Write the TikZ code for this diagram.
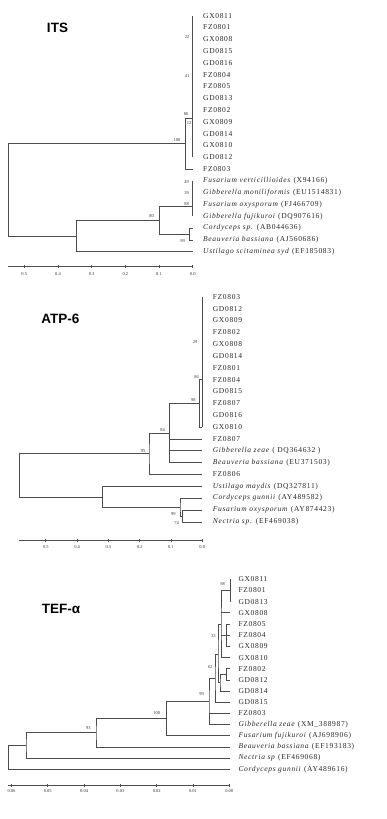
\documentclass[tikz,border=0pt]{standalone}
\usepackage{fontspec}
\setmainfont{Liberation Serif}
\newfontfamily\titlefont{Liberation Sans}
\newfontfamily\leaffont[LetterSpace=9]{Liberation Serif}
\usetikzlibrary{calc,positioning}

\tikzset{
  branch/.style={draw=black!70, line width=0.7pt},
  thickbranch/.style={draw=black!70, line width=1.4pt},
  leaf/.style={anchor=west, inner sep=0pt, font=\leaffont\fontsize{7.5}{8}\selectfont, text=black!85},
  boot/.style={inner sep=0pt, font=\fontsize{4.5}{4.5}\selectfont, text=black!80},
  ticklabel/.style={inner sep=0pt, anchor=north, font=\fontsize{4.5}{4.5}\selectfont, text=black!80},
  paneltitle/.style={font=\titlefont\bfseries\fontsize{13.5}{14}\selectfont}
}

\begin{document}
\begin{tikzpicture}[x=1pt,y=-1pt]
    \useasboundingbox (0,0) rectangle (387,819);

    % ITS
    \node[paneltitle] (itsT) at (57.5,28) {ITS};
    \foreach \lab [count=\i] in {GX0811,FZ0801,GX0808,GD0815,GD0816,FZ0804,FZ0805,
        GD0813,FZ0802,GX0809,GD0814,GX0810,GD0812,FZ0803,
        {\textit{Fusarium verticillioides} (X94166)},
        {\textit{Gibberella moniliformis} (EU1514831)},
        {\textit{Fusarium oxysporum} (FJ466709)},
        {\textit{Gibberella fujikuroi} (DQ907616)},
        {\textit{Cordyceps sp.} (AB044636)},
        {\textit{Beauveria bassiana} (AJ560686)},
        {\textit{Ustilago scitaminea syd} (EF185083)}} {
        \node[leaf] (its\i) at (203,{15.7+11.8*(\i-1)}) {\lab};
        \coordinate (its\i t) at (192.7,{15.7+11.8*(\i-1)});
    }
    \coordinate (itsN86) at (192.7,118.3);
    \coordinate (itsN100) at (185.7,143.7);
    \coordinate (itsR) at (8.3,190);
    \coordinate (itsB) at (76.3,236);
    \coordinate (itsN80) at (159.3,220.7);
    \coordinate (itsNF) at (192.7,206.7);
    \coordinate (itsNCB) at (189.3,234);

    \draw[branch] (its1t) -- (its13t);
    \draw[thickbranch] (its6t) -- (its13t);
    \draw[branch] (itsN86) -| (itsN100) |- (its14t);
    \draw[branch] (itsN100) -| (itsR) |- (itsB);
    \draw[branch] (itsN80) -| (itsB) |- (its21t);
    \draw[branch] (itsNF) -| (itsN80) |- (itsNCB);
    \draw[branch] (its15t) -- (its18t);
    \draw[thickbranch] (its16t) -- (its17t);
    \draw[branch] (its19t) -| (itsNCB) |- (its20t);

    \node[boot] (itsb22) at (187,37) {22};
    \node[boot] (itsb41) at (187,76) {41};
    \node[boot] (itsb86) at (186,114) {86};
    \node[boot] (itsb12) at (189,123) {12};
    \node[boot] (itsb100) at (177,140) {100};
    \node[boot] (itsb49) at (186.5,182.5) {49};
    \node[boot] (itsb39) at (186.5,193) {39};
    \node[boot] (itsb88) at (186.5,204) {88};
    \node[boot] (itsb80) at (151.7,216) {80};
    \node[boot] (itsb99) at (182.7,240.7) {99};

    \draw[branch] (8.3,266.7) -- (192.7,266.7);
    \foreach \k in {0,...,5} {
        \draw[branch] ({192.7-33.68*\k},265.2) -- ++(0,3);
        \node[ticklabel] (itsax\k) at ({192.7-33.68*\k},272) {0.\k};
    }

    % ATP-6
    \node[paneltitle] (atpT) at (60.3,319) {ATP-6};
    \foreach \lab [count=\i] in {FZ0803,GD0812,GX0809,FZ0802,GX0808,GD0814,FZ0801,
        FZ0804,GD0815,FZ0807,GD0816,GX0810,FZ0807,
        {\textit{Gibberella zeae} ( DQ364632 )},
        {\textit{Beauveria bassiana} (EU371503)},
        FZ0806,
        {\textit{Ustilago maydis} (DQ327811)},
        {\textit{Cordyceps gunnii} (AY489582)},
        {\textit{Fusarium oxysporum} (AY874423)},
        {\textit{Nectria sp.} (EF469038)}} {
        \node[leaf] (atp\i) at (212.7,{296.7+11.85*(\i-1)}) {\lab};
        \coordinate (atp\i t) at (202.3,{296.7+11.85*(\i-1)});
    }
    \coordinate (atpN86) at (202.3,379);
    \coordinate (atpN98) at (199.3,403.3);
    \coordinate (atpN84) at (169.3,433);
    \coordinate (atpN95) at (149,453.7);
    \coordinate (atpR) at (19.3,475.7);
    \coordinate (atpNL) at (102.7,497.4);
    \coordinate (atpNC) at (180,507.1);
    \coordinate (atpNFN) at (182.7,515.9);

    \draw[branch] (atp1t) -- (atp12t);
    \draw[thickbranch] (atp8t) -- (atp11t);
    \draw[branch] (atpN86) -| (atpN98) |- (atp12t);
    \draw[branch] (atpN98) -| (atpN84) |- (atp15t);
    \draw[branch] (atpN84 |- atp13t) -- (atp13t);
    \draw[branch] (atpN84 |- atp14t) -- (atp14t);
    \draw[branch] (atpN84) -| (atpN95) |- (atp16t);
    \draw[branch] (atpN95) -| (atpR) |- (atpNL);
    \draw[branch] (atp17t) -| (atpNL) |- (atpNC);
    \draw[branch] (atp18t) -| (atpNC) |- (atpNFN);
    \draw[branch] (atp19t) -| (atpNFN) |- (atp20t);

    \node[boot] (atpb29) at (195,341.7) {29};
    \node[boot] (atpb86) at (196.7,377) {86};
    \node[boot] (atpb98) at (193.3,400) {98};
    \node[boot] (atpb84) at (162.7,430) {84};
    \node[boot] (atpb95) at (143,450.7) {95};
    \node[boot] (atpb99) at (173.3,514.3) {99};
    \node[boot] (atpb74) at (176.7,522.7) {74};

    \draw[branch] (19.3,540) -- (202.3,540);
    \foreach \k in {0,...,5} {
        \draw[branch] ({202.3-31.3*\k},538.5) -- ++(0,3);
        \node[ticklabel] (atpax\k) at ({202.3-31.3*\k},545) {0.\k};
    }

    % TEF-alpha
    \node[paneltitle] (tefT) at (61,609) {TEF-α};
    \foreach \lab [count=\i] in {GX0811,FZ0801,GD0813,GX0808,FZ0805,FZ0804,GX0809,
        GX0810,FZ0802,GD0812,GD0814,GD0815,FZ0803,
        {\textit{Gibberella zeae} (XM\_388987)},
        {\textit{Fusarium fujikuroi} (AJ698906)},
        {\textit{Beauveria bassiana} (EF193183)},
        {\textit{Nectria sp} (EF469068)},
        {\textit{Cordyceps gunnii} (AY489616)}} {
        \node[leaf] (tef\i) at (238.3,{579.3+11.18*(\i-1)}) {\lab};
        \coordinate (tef\i t) at (230,{579.3+11.18*(\i-1)});
    }
    \coordinate (tefA) at (221,624);
    \coordinate (tefFZ) at (226.7,635.2);
    \coordinate (tefD) at (226.7,674.3);
    \coordinate (tefC) at (220,682.7);
    \coordinate (tefB) at (218,654.5);
    \coordinate (tefN62) at (215,678.4);
    \coordinate (tefN99) at (209,701.5);
    \coordinate (tefN100) at (166.7,718.6);
    \coordinate (tefN93) at (96,732.8);
    \coordinate (tefX) at (26,745.5);
    \coordinate (tefR) at (8.3,757.4);

    \draw[branch] (tef1t) -- (tef3t);
    \draw[branch] (tef2t) -| (tefA) |- (tef8t);
    \draw[branch] (tefA |- tef4t) -- (tef4t);
    \draw[branch] (tefA |- tef6t) -- (tef6t);
    \draw[branch] (tef5t) -| (tefFZ) |- (tef7t);
    \draw[branch] (tef9t) -| (tefD) |- (tef10t);
    \draw[branch] (tefD) -| (tefC) |- (tef11t);
    \draw[branch] (tefA) -| (tefB) |- (tefC);
    \draw[branch] (tefB) -| (tefN62) |- (tef12t);
    \draw[branch] (tefN62) -| (tefN99) |- (tef14t);
    \draw[branch] (tefN99 |- tef13t) -- (tef13t);
    \draw[branch] (tefN99) -| (tefN100) |- (tef15t);
    \draw[branch] (tefN100) -| (tefN93) |- (tef16t);
    \draw[branch] (tefN93) -| (tefX) |- (tef17t);
    \draw[branch] (tefX) -| (tefR) |- (tef18t);

    \node[boot] (tefb98) at (222.7,584.3) {98};
    \node[boot] (tefb33) at (213.3,635.7) {33};
    \node[boot] (tefb62) at (210,666.7) {62};
    \node[boot] (tefb99) at (201.7,694) {99};
    \node[boot] (tefb100) at (156.7,712.7) {100};
    \node[boot] (tefb93) at (88.3,728.3) {93};

    \draw[branch] (8.3,785) -- (230,785);
    \foreach \k in {0,...,6} {
        \draw[branch] ({229.3-36.3*\k},783.5) -- ++(0,3);
        \node[ticklabel] (tefax\k) at ({229.3-36.3*\k},789) {0.0\k};
    }
\end{tikzpicture}
\end{document}
